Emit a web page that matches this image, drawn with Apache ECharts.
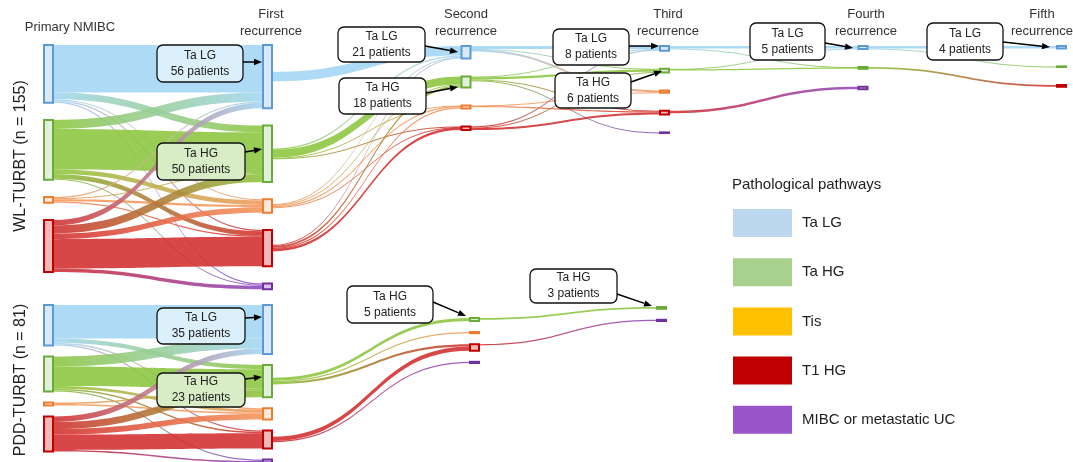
<!DOCTYPE html>
<html><head><meta charset="utf-8">
<script src="https://cdn.jsdelivr.net/npm/echarts@6/dist/echarts.min.js"></script>
<style>html,body{margin:0;padding:0;background:#fff}#c{width:1073px;height:462px}</style>
</head><body><div id="c"></div>
<script>
// ---------- data ----------
const GRADES = ['Ta LG', 'Ta HG', 'Tis', 'T1 HG', 'MIBC or metastatic UC'];
const STAGES = ['Primary NMIBC', 'First\nrecurrence', 'Second\nrecurrence', 'Third\nrecurrence', 'Fourth\nrecurrence', 'Fifth\nrecurrence'];
const COHORTS = ['WL-TURBT (n = 155)', 'PDD-TURBT (n = 81)'];
const LEGEND_TITLE = 'Pathological pathways';
// transitions: rows = from grade, cols = to grade (Ta LG, Ta HG, Tis, T1 HG, MIBC)
const wlPrimaryToFirst = [[42,6,1,1,1],[8,36,4,4,1],[1,1,2,1,0],[5,7,5,26,3],[0,0,0,0,0]];
const wlFirstToSecond  = [[16,0,0,0,0],[2,13,1,1,0],[1,2,2,1,0],[2,3,2,4,0],[0,0,0,0,0]];
const wlSecondToThird  = [[5,1,3,0,0],[1,4,0,1,1],[0,0,1,2,0],[2,1,0,3,0],[0,0,0,0,0]];
const wlThirdToFourth  = [[4,1,0,0,0],[1,2,0,0,0],[0,0,0,0,0],[0,0,0,0,4],[0,0,0,0,0]];
const wlFourthToFifth  = [[4,1,0,0,0],[0,0,0,3,0],[0,0,0,0,0],[0,0,0,0,0],[0,0,0,0,0]];
const pddPrimaryToFirst = [[24,3,1,1,0],[7,14,2,1,1],[0,1,1,0,0],[4,5,4,11,1],[0,0,0,0,0]];
const pddFirstToSecond  = [[0,0,0,0,0],[0,5,2,4,0],[0,0,0,0,0],[0,0,0,7,2],[0,0,0,0,0]];
const pddSecondToThird  = [[0,0,0,0,0],[0,3,0,0,0],[0,0,0,0,0],[0,0,0,0,2],[0,0,0,0,0]];
// callouts: which node is annotated [cohort, stage, grade]
const CALLOUT_NODES = [
  [0,1,0],[0,1,1],[0,2,0],[0,2,1],[0,3,0],[0,3,1],[0,4,0],[0,5,0],
  [1,1,0],[1,1,1],[1,2,1],[1,3,1]
];

// ---------- styles ----------
const BAND = ['#a2d6f4', '#8cc63e', '#f4975a', '#d22e2e', '#8f48c6'];
const BORDER = ['#5b9bd5', '#6aab3c', '#ed7d31', '#c00000', '#7030a0'];
const FILL = ['#dbe9f7', '#e2efda', '#fde9d9', '#f2b8b8', '#d9c3ea'];
const LEGEND_COLORS = ['#bdd7ee', '#a9d18e', '#ffc000', '#c00000', '#9955cc'];
const FONT = '"Liberation Sans", Arial, sans-serif';
const NODE_W = 9;

function colSum(m, j) { return m.reduce((a, r) => a + r[j], 0); }

function build(cfg) {
  const T = cfg.transitions;
  const nCols = T.length + 1;
  const inV = [], outV = [];
  for (let c = 0; c < nCols; c++) { inV.push([0,0,0,0,0]); outV.push([0,0,0,0,0]); }
  T.forEach((m, t) => m.forEach((row, i) => row.forEach((v, j) => { outV[t][i] += v; inV[t + 1][j] += v; })));
  const cols = [];
  for (let c = 0; c < nCols; c++) {
    const list = [];
    for (let g = 0; g < 5; g++) {
      const v = (c === 0 && cfg.hideFirst) ? outV[c][g] : Math.max(inV[c][g], outV[c][g]);
      if (v > 0) list.push({ g, v });
    }
    cols.push(list);
  }
  let H = 0;
  cols.forEach(list => {
    const s = list.reduce((a, b) => a + b.v, 0);
    H = Math.max(H, cfg.ky * s + (list.length - 1) * cfg.gap);
  });
  const W = (nCols - 1) * cfg.colStep + NODE_W;
  const nodes = [], pos = {};
  cols.forEach((list, c) => {
    const hasTop = cfg.colTops && cfg.colTops[c] != null;
    const hasX = cfg.colXs && cfg.colXs[c] != null;
    let y = hasTop ? cfg.colTops[c] : cfg.top;
    list.forEach(({ g, v }) => {
      const h = v * cfg.ky;
      const node = { name: cfg.id + '|' + (cfg.startStage + c) + '|' + g, depth: c };
      let topPx = y;
      if (c === 0 && cfg.hideFirst) {
        topPx = cfg.firstCenters[g] - h / 2;
        node.localY = (topPx - cfg.top) / H;
        node.itemStyle = { color: 'rgba(0,0,0,0)', borderWidth: 0, opacity: 0 };
      } else {
        if (hasTop) node.localY = (topPx - cfg.top) / H;
        node.itemStyle = { color: FILL[g], borderColor: BORDER[g], borderWidth: 2 };
      }
      if (hasX) node.localX = (cfg.colXs[c] - cfg.left) / W;
      pos[(cfg.startStage + c) + '|' + g] = { top: topPx, h, center: topPx + h / 2 };
      nodes.push(node);
      y += h + cfg.gap;
    });
  });
  const links = [];
  T.forEach((m, t) => m.forEach((row, i) => row.forEach((v, j) => {
    if (v > 0) links.push({
      source: cfg.id + '|' + (cfg.startStage + t) + '|' + i,
      target: cfg.id + '|' + (cfg.startStage + t + 1) + '|' + j,
      value: v,
      lineStyle: { color: { type: 'linear', x: 0, y: 0, x2: 1, y2: 0,
        colorStops: [{ offset: 0, color: BAND[i] }, { offset: 1, color: BAND[j] }] } }
    });
  })));
  const series = {
    type: 'sankey', left: cfg.left, top: cfg.top, width: W, height: H,
    nodeWidth: NODE_W, nodeGap: cfg.gap, layoutIterations: 0, nodeAlign: 'left',
    draggable: false, silent: true, animation: false,
    label: { show: false }, emphasis: { disabled: true },
    lineStyle: { opacity: 0.88, curveness: 0.5 },
    data: nodes, links
  };
  return { series, pos };
}

const wlA = build({ id: 'wlA', transitions: [wlPrimaryToFirst], startStage: 0, left: 44, top: 45, colStep: 219, ky: 1.13, gap: 17.25 });
const pddA = build({ id: 'pddA', transitions: [pddPrimaryToFirst], startStage: 0, left: 44, top: 305, colStep: 219, ky: 1.4, gap: 11 });
const centers = (p) => [0,1,2,3,4].map(g => p['1|' + g] ? p['1|' + g].center : 0);
const wlB = build({ id: 'wlB', transitions: [wlFirstToSecond, wlSecondToThird, wlThirdToFourth, wlFourthToFifth],
  startStage: 1, left: 263, top: 46, colStep: 198.5, ky: 0.6, gap: 18, hideFirst: true, firstCenters: centers(wlA.pos) });
const pddB = build({ id: 'pddB', transitions: [pddFirstToSecond, pddSecondToThird],
  startStage: 1, left: 263, top: 318, colStep: 199, ky: 0.6, gap: 11, hideFirst: true, firstCenters: centers(pddA.pos),
  colTops: { 2: 307 }, colXs: { 1: 470, 2: 657 } });

// ---------- annotations ----------
const cohortTransitions = [
  [wlPrimaryToFirst, wlFirstToSecond, wlSecondToThird, wlThirdToFourth, wlFourthToFifth],
  [pddPrimaryToFirst, pddFirstToSecond, pddSecondToThird]
];
const CALLOUT_LAYOUT = [
  { box: [157, 45, 86, 37], fill: '#dcf0fc', from: [243, 62], to: [262, 62] },
  { box: [157, 143, 88, 37], fill: '#d8ecc6', from: [245, 152], to: [262, 149] },
  { box: [338, 27, 87, 35], fill: '#ffffff', from: [425, 46], to: [458, 52] },
  { box: [339, 78, 87, 36], fill: '#ffffff', from: [426, 93], to: [458, 87] },
  { box: [553, 29, 76, 36], fill: '#ffffff', from: [629, 46], to: [659, 46] },
  { box: [555, 73, 76, 35], fill: '#ffffff', from: [631, 82], to: [662, 71] },
  { box: [750, 23, 75, 37], fill: '#ffffff', from: [825, 43], to: [853, 48] },
  { box: [927, 23, 76, 37], fill: '#ffffff', from: [1003, 42], to: [1050, 47] },
  { box: [157, 308, 88, 36], fill: '#dcf0fc', from: [245, 318], to: [262, 317] },
  { box: [157, 373, 88, 34], fill: '#d8ecc6', from: [245, 379], to: [262, 377] },
  { box: [347, 286, 86, 37], fill: '#ffffff', from: [433, 302], to: [466, 316] },
  { box: [530, 269, 87, 34], fill: '#ffffff', from: [617, 294], to: [652, 306] }
];
const graphics = [];
CALLOUT_NODES.forEach(([co, st, g], k) => {
  const L = CALLOUT_LAYOUT[k];
  const count = colSum(cohortTransitions[co][st - 1], g);
  const [bx, by, bw, bh] = L.box;
  graphics.push({ type: 'rect', z: 100, shape: { x: bx, y: by, width: bw, height: bh, r: 6 },
    style: { fill: L.fill, stroke: '#111', lineWidth: 1.3 } });
  graphics.push({ type: 'text', z: 101, x: bx + bw / 2, y: by + bh / 2,
    style: { text: GRADES[g] + '\n' + count + ' patients', fill: '#222', fontSize: 12, fontFamily: FONT,
      align: 'center', verticalAlign: 'middle', lineHeight: 16 } });
  const [x1, y1] = L.from, [x2, y2] = L.to;
  const dx = x2 - x1, dy = y2 - y1, len = Math.hypot(dx, dy), ux = dx / len, uy = dy / len;
  const hl = 8, hw = 3.2;
  const bxh = x2 - ux * hl, byh = y2 - uy * hl;
  graphics.push({ type: 'line', z: 100, shape: { x1, y1, x2: bxh, y2: byh }, style: { stroke: '#000', lineWidth: 1.5 } });
  graphics.push({ type: 'polygon', z: 100, shape: { points: [[x2, y2], [bxh - uy * hw, byh + ux * hw], [bxh + uy * hw, byh - ux * hw]] },
    style: { fill: '#000' } });
});
// stage headers
const HEADER_X = [70, 271, 466, 668, 866, 1042];
STAGES.forEach((s, i) => {
  graphics.push({ type: 'text', x: HEADER_X[i], y: i === 0 ? 27 : 23,
    style: { text: s, fill: '#333', fontSize: 13, fontFamily: FONT, align: 'center', verticalAlign: 'middle', lineHeight: 17 } });
});
// cohort labels
const COHORT_Y = [156, 380];
COHORTS.forEach((c, i) => {
  graphics.push({ type: 'text', x: 21, y: COHORT_Y[i], rotation: Math.PI / 2,
    style: { text: c, fill: '#222', fontSize: 16, fontFamily: FONT, align: 'center', verticalAlign: 'middle' } });
});
// legend
graphics.push({ type: 'text', x: 732, y: 185,
  style: { text: LEGEND_TITLE, fill: '#222', fontSize: 15, fontFamily: FONT, align: 'left', verticalAlign: 'middle' } });
GRADES.forEach((g, i) => {
  const y = 209 + i * 49.2;
  graphics.push({ type: 'rect', shape: { x: 733, y: y, width: 59, height: 28 }, style: { fill: LEGEND_COLORS[i] } });
  graphics.push({ type: 'text', x: 802, y: y + 14,
    style: { text: g, fill: '#222', fontSize: 15, fontFamily: FONT, align: 'left', verticalAlign: 'middle' } });
});

const chart = echarts.init(document.getElementById('c'), null, { renderer: 'canvas' });
chart.setOption({
  animation: false,
  backgroundColor: '#ffffff',
  series: [wlA.series, pddA.series, wlB.series, pddB.series],
  graphic: { elements: graphics }
});
</script>
</body></html>
